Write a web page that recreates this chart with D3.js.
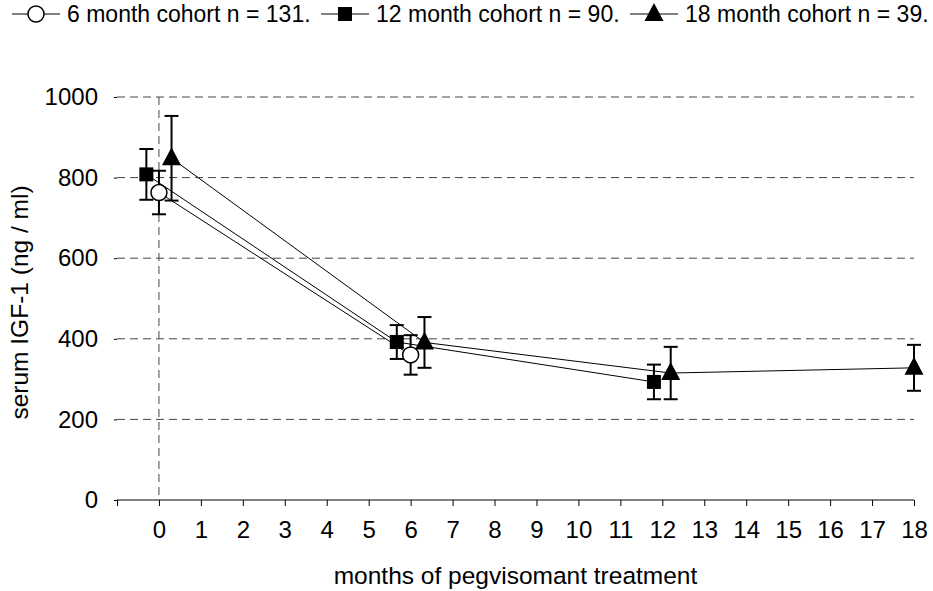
<!DOCTYPE html>
<html>
<head>
<meta charset="utf-8">
<script src="https://cdn.jsdelivr.net/npm/d3@7/dist/d3.min.js"></script>
<style>
  html, body { margin: 0; padding: 0; background: #fff; }
  svg { display: block; font-family: "Liberation Sans", Arial, sans-serif; }
</style>
</head>
<body>
<svg id="chart" width="933" height="591"></svg>
<script>
// Serum IGF-1 (mean ± SE) by cohort over months of pegvisomant treatment
const xTicks = d3.range(-1, 19);
const xTickLabels = d3.range(0, 19).map(String);
const yTicks = [0, 200, 400, 600, 800, 1000];

const months6 = [0, 6];
const mean6 = [763, 360];
const err6 = [54, 49];

const months12 = [0, 6, 12];
const mean12 = [808, 392, 293];
const err12 = [63, 42, 43];

const months18 = [0, 6, 12, 18];
const mean18 = [848, 391, 315, 328];
const err18 = [105, 63, 65, 57];

const seriesNames = [
  "6 month cohort n = 131.",
  "12 month cohort n = 90.",
  "18 month cohort n = 39."
];

// horizontal dodge (in months) so overlapping cohorts stay readable
const dodge = { 0: 0.3, 6: 0.33, 12: 0.2, 18: 0 };

const series = [
  { name: seriesNames[0], shape: "circle",   side: 0,  months: months6,  mean: mean6,  err: err6 },
  { name: seriesNames[1], shape: "square",   side: -1, months: months12, mean: mean12, err: err12 },
  { name: seriesNames[2], shape: "triangle", side: 1,  months: months18, mean: mean18, err: err18 }
];

const svg = d3.select("#chart");
const x = d3.scaleLinear().domain([-1, 18]).range([117, 914]);
const y = d3.scaleLinear().domain([0, 1000]).range([500, 97]);

const tickFont = 24, titleFont = 24.5, legendFont = 23;
const fontFamily = "Liberation Sans, Arial, sans-serif";

// horizontal gridlines
svg.append("g").selectAll("line")
  .data(yTicks.filter(v => v > 0))
  .join("line")
  .attr("x1", x(-1)).attr("x2", x(18))
  .attr("y1", d => y(d)).attr("y2", d => y(d))
  .attr("stroke", "#444").attr("stroke-width", 1)
  .attr("stroke-dasharray", "8,5");

// vertical dashed line at treatment start
svg.append("line")
  .attr("x1", x(0)).attr("x2", x(0))
  .attr("y1", y(1000)).attr("y2", y(0))
  .attr("stroke", "#444").attr("stroke-width", 1)
  .attr("stroke-dasharray", "8,5");

// x axis
const xAxis = d3.axisBottom(x)
  .tickValues(xTicks)
  .tickSize(6)
  .tickPadding(15)
  .tickFormat(d => d >= 0 ? xTickLabels[d] : "");
const gx = svg.append("g").attr("transform", `translate(0,${y(0)})`).call(xAxis);
gx.select(".domain").attr("stroke", "#000").attr("d", `M${x(-1)},0H${x(18)}`);
gx.selectAll(".tick line").attr("stroke", "#000");
gx.selectAll(".tick text").attr("font-size", tickFont).attr("fill", "#000")
  .attr("font-family", fontFamily);

// y axis labels
const yAxis = d3.axisLeft(y).tickValues(yTicks).tickFormat(d3.format("d"))
  .tickSize(3).tickPadding(16);
const gy = svg.append("g").attr("transform", `translate(${x(-1)},0)`).call(yAxis);
gy.select(".domain").remove();
gy.selectAll(".tick line").attr("stroke", "#000");
gy.selectAll(".tick text").attr("font-size", tickFont).attr("fill", "#000")
  .attr("font-family", fontFamily);

// axis titles
svg.append("text")
  .attr("x", (x(-1) + x(18)) / 2).attr("y", 584)
  .attr("text-anchor", "middle").attr("font-size", titleFont)
  .text("months of pegvisomant treatment");
svg.append("text")
  .attr("transform", `translate(28,${(y(0) + y(1000)) / 2 + 4}) rotate(-90)`)
  .attr("text-anchor", "middle").attr("font-size", titleFont)
  .text("serum IGF-1 (ng / ml)");

function px(s, m) { return x(m + s.side * dodge[m]); }

function drawMarker(g, shape, cx, cy) {
  if (shape === "circle") {
    g.append("circle").attr("cx", cx).attr("cy", cy).attr("r", 8)
      .attr("fill", "#fff").attr("stroke", "#000").attr("stroke-width", 1.5);
  } else if (shape === "square") {
    g.append("rect").attr("x", cx - 7).attr("y", cy - 7)
      .attr("width", 14).attr("height", 14).attr("fill", "#000");
  } else {
    g.append("path")
      .attr("d", `M${cx},${cy - 11}L${cx + 9.5},${cy + 7}L${cx - 9.5},${cy + 7}Z`)
      .attr("fill", "#000");
  }
}

// connecting lines
const line = d3.line();
series.forEach(s => {
  const pts = s.months.map((m, i) => [px(s, m), y(s.mean[i])]);
  svg.append("path").attr("d", line(pts))
    .attr("fill", "none").attr("stroke", "#000").attr("stroke-width", 1);
});

// error bars
series.forEach(s => {
  const g = svg.append("g").attr("stroke", "#000").attr("stroke-width", 2);
  s.months.forEach((m, i) => {
    const cx = px(s, m);
    const top = y(s.mean[i] + s.err[i]), bot = y(s.mean[i] - s.err[i]);
    g.append("line").attr("x1", cx).attr("x2", cx).attr("y1", top).attr("y2", bot);
    g.append("line").attr("x1", cx - 7).attr("x2", cx + 7).attr("y1", top).attr("y2", top);
    g.append("line").attr("x1", cx - 7).attr("x2", cx + 7).attr("y1", bot).attr("y2", bot);
  });
});

// markers
series.forEach(s => {
  const g = svg.append("g");
  s.months.forEach((m, i) => drawMarker(g, s.shape, px(s, m), y(s.mean[i])));
});

// legend: line + marker swatch followed by the label, three items across the top
const legendY = 14, legendStart = 12, legendPitch = 309, swatchLen = 48, swatchGap = 7;
series.forEach((s, i) => {
  const lx = legendStart + i * legendPitch;
  const g = svg.append("g");
  g.append("line").attr("x1", lx).attr("x2", lx + swatchLen)
    .attr("y1", legendY).attr("y2", legendY)
    .attr("stroke", "#000").attr("stroke-width", 1);
  drawMarker(g, s.shape, lx + swatchLen / 2, legendY);
  g.append("text").attr("x", lx + swatchLen + swatchGap).attr("y", legendY).attr("dy", "0.35em")
    .attr("font-size", legendFont).text(s.name);
});
</script>
</body>
</html>
